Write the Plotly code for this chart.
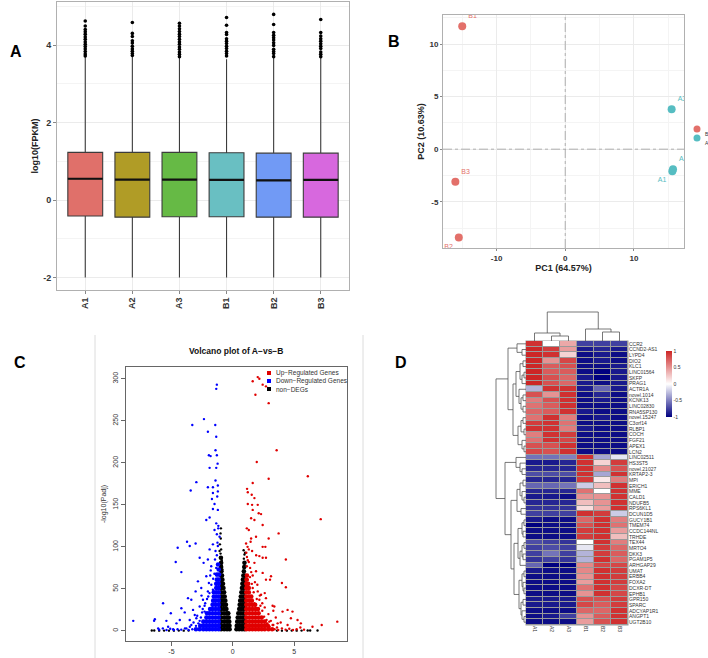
import plotly.graph_objects as go

W, H = 708, 658
FONT = "Liberation Sans, Arial, sans-serif"


def fx(px):
    return px / W


def fy(py):
    return 1 - py / H


# ---------------- Panel A: expression box plot ----------------
samples = ["A1", "A2", "A3", "B1", "B2", "B3"]
box_q1 = [-0.41, -0.44, -0.43, -0.43, -0.44, -0.44]
box_median = [0.55, 0.53, 0.53, 0.52, 0.51, 0.52]
box_q3 = [1.23, 1.23, 1.23, 1.22, 1.21, 1.21]
box_low = [-2.0, -2.0, -2.0, -2.0, -2.0, -2.0]
box_high = [3.70, 3.70, 3.70, 3.63, 3.68, 3.68]
box_colors = ["#E0706A", "#B09C26", "#66BA45", "#69BFC2", "#719AF5", "#D768DE"]
outliers_A1 = [4.62, 4.49, 4.40, 4.34, 4.28, 4.21, 4.15, 4.08, 4.02, 3.96, 3.90, 3.83, 3.77, 3.72]
outliers_A2 = [4.58, 4.30, 4.22, 4.11, 4.05, 3.97, 3.90, 3.84, 3.78, 3.73]
outliers_A3 = [4.56, 4.49, 4.42, 4.35, 4.28, 4.22, 4.15, 4.08, 4.02, 3.95, 3.89, 3.82, 3.76, 3.70]
outliers_B1 = [4.71, 4.51, 4.32, 4.27, 4.16, 4.10, 4.04, 3.97, 3.91, 3.84, 3.78, 3.72]
outliers_B2 = [4.79, 4.53, 4.32, 4.25, 4.19, 4.13, 4.06, 3.99, 3.89, 3.83, 3.78, 3.70]
outliers_B3 = [4.66, 4.32, 4.23, 4.16, 4.10, 4.03, 3.97, 3.91, 3.82, 3.76, 3.70]
outlier_lists = [outliers_A1, outliers_A2, outliers_A3, outliers_B1, outliers_B2, outliers_B3]
box_y_ticks = [-2, 0, 2, 4]

# ---------------- Panel B: PCA ----------------
pca_B_labels = ["B1", "B2", "B3"]
pca_B_pc1 = [-15.0, -15.5, -16.0]
pca_B_pc2 = [11.7, -8.4, -3.1]
pca_B_pos = ["top right", "bottom left", "top right"]
pca_A_labels = ["A1", "A2", "A3"]
pca_A_pc1 = [15.6, 15.7, 15.5]
pca_A_pc2 = [-2.1, -1.9, 3.8]
pca_A_pos = ["bottom left", "top right", "top right"]
pca_x_ticks = [-10, 0, 10]
pca_y_ticks = [-5, 0, 5, 10]
col_B = "#E3706A"
col_A = "#56BDC2"

# ---------------- Panel C: volcano (log2FC, -log10 padj) ----------------
volc_x_ticks = [-5, 0, 5]
volc_y_ticks = [0, 50, 100, 150, 200, 250, 300]
non_core = [
    (-0.95, 2), (-0.7, 2), (-0.47, 2), (-0.26, 2), (0.3, 2), (0.52, 2), (0.75, 2), (0.95, 2),
    (-0.95, 6), (-0.7, 6), (-0.47, 6), (-0.27, 6), (0.32, 6), (0.53, 6), (0.75, 6), (0.95, 6),
    (-0.95, 11), (-0.7, 11), (-0.47, 11), (-0.29, 11), (0.36, 11), (0.56, 11), (0.76, 11), (0.95, 11),
    (-0.95, 16), (-0.7, 16), (-0.5, 16), (-0.33, 16), (0.4, 16), (0.6, 16), (0.8, 16), (0.95, 16),
    (-0.95, 21), (-0.72, 21), (-0.5, 21), (-0.37, 21), (0.45, 21), (0.65, 21), (0.85, 21),
    (-0.95, 26), (-0.72, 26), (-0.52, 26), (0.52, 26), (0.72, 26), (0.92, 26),
    (-0.95, 31), (-0.75, 31), (-0.56, 31), (0.56, 31), (0.75, 31), (0.93, 31),
    (-0.95, 36), (-0.78, 36), (-0.61, 36), (0.6, 36), (0.78, 36), (0.95, 36),
    (-0.95, 41), (-0.8, 41), (-0.66, 41), (0.65, 41), (0.82, 41), (0.95, 41),
    (-0.95, 46), (-0.71, 46), (0.7, 46), (0.88, 46),
    (-0.95, 51), (-0.76, 51), (0.74, 51), (0.9, 51),
    (-0.95, 56), (-0.8, 56), (0.78, 56), (0.93, 56),
    (-0.95, 61), (-0.85, 61), (0.82, 61), (0.95, 61),
    (-0.95, 66), (-0.88, 66), (0.86, 66), (0.96, 66),
    (-0.93, 71), (0.9, 71), (-0.95, 76), (0.93, 76), (-0.95, 81), (0.95, 81), (-0.97, 87),
]
non_sparse = [
    (-1.0, 92), (-0.95, 97), (-1.05, 103), (-0.98, 110), (-1.0, 116), (-0.97, 122), (-1.08, 95),
    (-0.9, 84), (0.9, 86), (0.95, 91), (0.88, 96), (1.0, 93), (-0.85, 73), (-0.9, 78), (0.85, 70),
    (-6.6, 0.5), (-6.4, 0.5), (-6.0, 0.3), (-5.6, 0.4), (-5.2, 0.3), (-4.8, 0.3), (-4.4, 0.4),
    (-4.0, 0.3), (-3.6, 0.4), (3.6, 0.4), (4.0, 0.3), (4.4, 0.3), (4.8, 0.4), (5.2, 0.3),
    (5.6, 0.4), (6.1, 0.5), (6.3, 0.5), (6.9, 0.5),
]
down_core = [
    (-1.15, 2), (-1.4, 2), (-1.65, 2), (-1.9, 2), (-2.15, 2), (-2.4, 2), (-2.7, 2), (-3.0, 2),
    (-1.15, 6), (-1.4, 6), (-1.65, 6), (-1.9, 6), (-2.15, 6), (-2.4, 6), (-2.65, 6),
    (-1.15, 11), (-1.4, 11), (-1.65, 11), (-1.9, 11), (-2.15, 11), (-2.4, 11),
    (-1.15, 16), (-1.4, 16), (-1.65, 16), (-1.9, 16), (-2.15, 16),
    (-1.15, 21), (-1.4, 21), (-1.65, 21), (-1.9, 21), (-2.1, 21),
    (-1.15, 26), (-1.4, 26), (-1.65, 26), (-1.85, 26),
    (-1.15, 31), (-1.4, 31), (-1.65, 31),
    (-1.15, 36), (-1.4, 36), (-1.6, 36),
    (-1.15, 41), (-1.35, 41), (-1.55, 41),
    (-1.15, 46), (-1.35, 46), (-1.55, 46),
    (-1.15, 51), (-1.35, 51), (-1.15, 56), (-1.35, 56),
    (-1.15, 61), (-1.3, 61), (-1.12, 67), (-1.3, 67), (-1.15, 73), (-1.2, 79),
]
down_sparse = [
    (-1.30, 293), (-1.35, 288), (-2.35, 252), (-3.30, 245), (-1.43, 245), (-2.03, 237), (-1.35, 231),
    (-1.95, 209), (-1.81, 208), (-1.41, 215), (-1.30, 209), (-1.24, 199), (-1.35, 194), (-1.89, 194),
    (-2.97, 177), (-3.43, 167), (-2.03, 171), (-1.62, 171), (-1.41, 179), (-1.22, 173), (-1.22, 166),
    (-1.62, 164), (-1.70, 157), (-1.27, 160), (-1.49, 151), (-1.22, 144), (-1.62, 145), (-2.16, 132),
    (-1.89, 135), (-1.35, 128), (-1.19, 122), (-1.49, 120), (-1.08, 112), (-3.73, 106), (-3.51, 101),
    (-4.49, 99), (-3.03, 104), (-1.62, 103), (-1.22, 101), (-1.89, 97), (-1.41, 95), (-2.70, 87),
    (-2.38, 81), (-4.65, 82), (-4.19, 70), (-2.03, 85), (-1.76, 77), (-1.35, 75), (-2.16, 65),
    (-1.84, 66), (-2.84, 59), (-2.57, 51), (-3.03, 47), (-3.65, 39), (-3.38, 37), (-2.43, 37),
    (-2.03, 47), (-1.62, 49), (-5.68, 33), (-5.05, 21), (-4.19, 27), (-3.92, 22), (-3.24, 25),
    (-2.70, 29), (-2.97, 15), (-3.51, 13), (-4.32, 13), (-6.35, 14), (-6.41, 12), (-5.41, 12),
    (-4.59, 9), (-5.27, 5), (-6.08, 3), (-8.11, 12), (-4.86, 2), (-3.78, 3), (-2.70, 5), (-2.16, 15),
    (-2.30, 23), (-3.38, 7), (-3.3, 2), (-3.6, 1), (-3.9, 3), (-4.2, 1.5), (-4.5, 2), (-4.8, 1),
    (-5.1, 2.5), (-5.4, 1), (-5.7, 3), (-6.0, 1.5), (-3.0, 6), (-3.2, 10), (-2.7, 12), (-2.9, 18),
    (-2.5, 22), (-2.3, 30), (-2.1, 38), (-1.9, 45), (-1.75, 55), (-1.6, 62), (-1.5, 68), (-1.45, 85),
    (-1.3, 90), (-1.25, 105), (-1.3, 115), (-1.18, 125), (-2.6, 16), (-2.45, 26), (-2.8, 9),
    (-3.1, 19), (-2.25, 33), (-2.0, 41), (-3.5, 5), (-2.55, 42), (-1.95, 57), (-1.8, 72),
]
up_core = [
    (1.1, 2), (1.35, 2), (1.6, 2), (1.85, 2), (2.1, 2), (2.35, 2), (2.6, 2), (2.9, 2), (3.2, 2),
    (1.1, 6), (1.35, 6), (1.6, 6), (1.85, 6), (2.1, 6), (2.35, 6), (2.6, 6), (2.85, 6),
    (1.1, 11), (1.35, 11), (1.6, 11), (1.85, 11), (2.1, 11), (2.35, 11), (2.6, 11),
    (1.1, 16), (1.35, 16), (1.6, 16), (1.85, 16), (2.1, 16), (2.35, 16),
    (1.1, 21), (1.35, 21), (1.6, 21), (1.85, 21), (2.1, 21),
    (1.1, 26), (1.35, 26), (1.6, 26), (1.85, 26), (2.05, 26),
    (1.1, 31), (1.35, 31), (1.6, 31), (1.82, 31),
    (1.1, 36), (1.35, 36), (1.55, 36),
    (1.1, 41), (1.3, 41), (1.5, 41), (1.1, 46), (1.3, 46), (1.1, 51), (1.3, 51),
    (1.1, 56), (1.25, 56), (1.12, 61), (1.15, 66),
]
up_sparse = [
    (1.62, 297), (2.03, 302), (2.16, 300), (1.84, 281), (2.43, 293), (2.70, 291), (2.92, 271),
    (3.57, 215), (1.95, 201), (2.92, 181), (6.11, 184), (7.16, 133), (3.73, 116), (1.62, 176),
    (1.16, 169), (1.22, 165), (1.54, 162), (1.76, 158), (1.22, 151), (1.57, 150), (2.03, 150),
    (1.62, 144), (2.11, 140), (2.30, 139), (1.49, 134), (1.76, 132), (2.43, 126), (1.14, 122),
    (1.30, 120), (1.89, 112), (2.92, 110), (1.49, 110), (2.43, 100), (2.65, 100), (1.08, 104),
    (1.30, 97), (1.57, 95), (2.16, 89), (2.43, 87), (2.70, 87), (4.32, 85), (1.22, 84), (1.76, 81),
    (1.14, 77), (1.41, 75), (1.89, 71), (2.43, 69), (3.11, 65), (4.00, 57), (4.32, 52), (1.62, 66),
    (1.22, 61), (2.70, 61), (3.03, 61), (1.62, 51), (2.03, 47), (2.30, 43), (1.35, 45), (2.70, 39),
    (3.38, 29), (3.24, 30), (2.16, 37), (1.76, 33), (4.05, 23), (4.46, 25), (4.86, 23), (4.73, 15),
    (5.27, 13), (5.54, 9), (6.49, 5), (7.24, 7), (8.51, 11), (4.46, 7), (3.65, 9), (2.97, 11),
    (3.24, 7), (3.4, 2), (3.7, 1), (4.0, 3), (4.3, 1.5), (4.6, 2.5), (4.9, 1), (5.2, 2), (5.5, 4),
    (5.8, 1.5), (3.0, 5), (3.3, 7), (2.8, 9), (3.1, 12), (3.5, 16), (2.9, 20), (3.3, 24), (2.6, 28),
    (2.4, 33), (2.2, 42), (2.6, 45), (2.0, 55), (1.8, 58), (1.5, 70), (1.3, 82), (1.9, 90),
    (1.15, 88), (1.2, 100), (1.45, 106), (1.1, 93), (2.55, 17), (2.75, 13), (2.4, 24), (3.6, 4),
    (2.25, 30), (1.95, 38), (3.9, 10), (1.7, 46), (1.55, 56), (1.4, 64),
]

# ---------------- Panel D: heatmap ----------------
heat_cols = ["A1", "A2", "A3", "B1", "B2", "B3"]
heat_genes = [
    "CCR2", "CCND2-AS1", "LYPD4", "DIO2", "KLC1", "LINC01564", "SKFP", "PRAG1", "ACTR1A",
    "novel.1014", "KCNK13", "LINC02830", "RNA5SP130", "novel.15247", "C3orf14", "RLBP1", "COCH",
    "FGF21", "APEX1", "LCN2", "LINC02511", "HS3ST5", "novel.21027", "KRTAP2-3", "MPI", "ERICH1",
    "MME", "CALD1", "NDUFB5", "RPS6KL1", "DCUN1D5", "GUCY1B1", "TMEM74", "CCDC144NL", "TRHDE",
    "TEX44", "MRTO4", "DKK3", "PGAM1P5", "ARHGAP29", "UMAT", "ERBB4", "FOXA2", "DCXR-DT", "EPHB1",
    "GPR150", "SPARC", "ADCYAP1R1", "ANGPT1", "UGT2B10",
]
heat_values = [
    [0.95, 0.0, 0.4, -0.75, -0.75, -0.75],
    [1.0, 0.9, 0.45, -0.9, -0.85, -0.9],
    [1.0, 0.95, 0.2, -0.95, -0.9, -0.95],
    [1.0, 0.5, 0.85, -0.95, -0.9, -0.95],
    [1.0, 0.75, 0.8, -0.95, -0.95, -0.9],
    [1.0, 0.75, 0.75, -0.95, -1.0, -0.9],
    [1.0, 0.8, 0.7, -0.9, -1.0, -0.9],
    [1.0, 0.8, 0.7, -0.9, -0.95, -0.9],
    [-0.3, 0.95, 0.95, -0.9, -0.6, -0.9],
    [0.8, 0.5, 0.95, -0.95, -0.85, -0.95],
    [0.6, 0.8, 0.95, -0.95, -0.9, -0.95],
    [0.65, 0.75, 0.95, -0.95, -0.95, -0.95],
    [0.7, 0.75, 0.95, -0.9, -0.95, -0.95],
    [0.65, 0.95, 0.6, -0.95, -0.9, -0.95],
    [0.9, 0.95, 0.65, -0.95, -0.95, -0.95],
    [0.95, 0.95, 0.6, -0.9, -0.95, -0.95],
    [0.6, 0.95, 0.9, -0.95, -0.95, -0.95],
    [0.65, 0.95, 0.85, -0.95, -0.95, -0.95],
    [0.8, 0.8, 0.95, -0.95, -0.95, -0.95],
    [0.85, 0.8, 0.95, -0.95, -0.95, -0.95],
    [-0.55, -0.55, -0.5, 0.95, -0.35, -0.1],
    [-0.9, -0.9, -0.85, 0.95, 0.2, 0.9],
    [-0.85, -0.85, -0.85, 0.95, 0.55, 0.8],
    [-0.7, -0.7, -0.7, 0.95, -0.35, 0.95],
    [-0.85, -0.85, -0.85, 0.9, 0.1, 0.6],
    [-0.6, -0.6, -0.55, -0.2, 0.3, 0.95],
    [-0.85, -0.85, -0.85, 0.65, 0.0, 0.95],
    [-0.9, -0.9, -0.95, 0.5, 0.5, 0.95],
    [-0.85, -0.85, -0.85, 0.3, 0.5, 0.95],
    [-0.8, -0.8, -0.8, 0.15, 0.45, 0.95],
    [-0.75, -0.75, -0.75, 0.95, 0.9, -0.2],
    [-0.9, -0.95, -0.95, 0.7, 0.95, 0.6],
    [-1.0, -0.95, -0.95, 0.8, 0.95, 0.65],
    [-0.95, -0.95, -0.95, 0.9, 0.95, 0.45],
    [-0.95, -0.95, -0.95, 0.9, 0.95, 0.3],
    [-0.7, -0.75, -0.8, 0.0, 0.95, 0.6],
    [-0.75, -0.7, -0.75, -0.1, 0.9, 0.7],
    [-0.75, -0.55, -0.75, -0.3, 0.9, 0.75],
    [-0.8, -0.75, -0.8, -0.3, 0.95, 0.7],
    [-0.6, -1.0, -1.0, 0.55, 0.85, 0.85],
    [-0.9, -0.95, -0.95, 0.55, 0.95, 0.9],
    [-0.95, -0.95, -0.95, 0.5, 0.95, 0.9],
    [-0.95, -0.95, -0.95, 0.45, 0.95, 0.9],
    [-0.95, -0.95, -0.95, 0.65, 0.95, 0.85],
    [-0.95, -0.95, -0.95, 0.5, 0.95, 0.85],
    [-0.9, -0.9, -0.9, 0.8, 0.8, 0.9],
    [-0.9, -0.9, -0.9, 0.85, 0.75, 0.9],
    [-0.95, -0.95, -0.95, 0.7, 0.7, 0.95],
    [-0.95, -0.9, -0.75, 0.5, 0.75, 0.95],
    [-0.95, -0.95, -0.95, 0.45, 0.8, 0.95],
]
colorbar_ticks = [-1, -0.5, 0, 0.5, 1]
# dendrograms: [height, left, right]; leaves are row / column indices
row_tree = [30,
            [18,
             [9, 0, [4, 1, 2]],
             [13,
              [10, [6, [3, 3, 4], [4, [2, 5, 6], 7]], [7, 8, [5, [3, 9, 10], [3, 11, 12]]]],
              [8, [5, [3, 13, 14], [2, 15, 16]], [4, 17, [2, 18, 19]]]]],
            [21,
             [10, 20, [6, 21, [4, 22, 23]]],
             [15,
              [9, [6, [3, 24, 25], [4, 26, [2, 27, 28]]], [5, 29, 30]],
              [12,
               [8, [4, [2, 31, 32], [3, 33, 34]], [6, [4, [2, 35, 36], [3, 37, 38]], 39]],
               [7, [4, [2, 40, 41], [3, 42, [2, 43, 44]]], [5, [3, 45, 46], [4, 47, [2, 48, 49]]]]]]]]
col_tree = [29, [8, 0, [5, 1, 2]], [12, 3, [9, 4, 5]]]


def dendro_lines(node, pos_list, hgt_list):
    if isinstance(node, int):
        return float(node), 0.0
    h, left, right = node
    pl, hl = dendro_lines(left, pos_list, hgt_list)
    pr, hr = dendro_lines(right, pos_list, hgt_list)
    pos_list += [pl, pl, pr, pr, None]
    hgt_list += [hl, h, h, hr, None]
    return (pl + pr) / 2, h


def labels(vals):
    return [("%g" % v) for v in vals]


fig = go.Figure()

# ---- A traces (numeric positions so medians can be drawn thicker)
BOX_HALF = 0.37
pos = list(range(len(samples)))
for i, s in enumerate(samples):
    fig.add_trace(go.Box(
        x=[pos[i]], q1=[box_q1[i]], median=[box_median[i]], q3=[box_q3[i]],
        lowerfence=[box_low[i]], upperfence=[box_high[i]], width=2 * BOX_HALF,
        fillcolor=box_colors[i], line=dict(color="#3c3c3c", width=1.1),
        whiskerwidth=0, boxpoints=False, xaxis="x", yaxis="y", showlegend=False,
    ))
mx, my = [], []
for i in pos:
    mx += [i - BOX_HALF, i + BOX_HALF, None]
    my += [box_median[i], box_median[i], None]
fig.add_trace(go.Scatter(x=mx, y=my, mode="lines", line=dict(color="#111", width=2.2),
                         xaxis="x", yaxis="y", showlegend=False))
ox, oy = [], []
for i, lst in zip(pos, outlier_lists):
    ox += [i] * len(lst)
    oy += lst
fig.add_trace(go.Scatter(x=ox, y=oy, mode="markers", marker=dict(color="black", size=3.6),
                         xaxis="x", yaxis="y", showlegend=False))

# ---- B traces
fig.add_trace(go.Scatter(x=pca_B_pc1, y=pca_B_pc2, mode="markers+text", text=pca_B_labels,
                         textposition=pca_B_pos, textfont=dict(size=7, color=col_B),
                         marker=dict(color=col_B, size=8), xaxis="x2", yaxis="y2", showlegend=False))
fig.add_trace(go.Scatter(x=pca_A_pc1, y=pca_A_pc2, mode="markers+text", text=pca_A_labels,
                         textposition=pca_A_pos, textfont=dict(size=7, color=col_A),
                         marker=dict(color=col_A, size=8), xaxis="x2", yaxis="y2", showlegend=False))

# ---- C traces
for pts, col, size in [(non_core, "black", 4.6), (down_core, "#0000FF", 4.6), (up_core, "#E00000", 4.6),
                       (non_sparse, "black", 2.4), (down_sparse, "#0000FF", 2.4), (up_sparse, "#E00000", 2.4)]:
    fig.add_trace(go.Scatter(x=[p[0] for p in pts], y=[p[1] for p in pts], mode="markers",
                             marker=dict(color=col, size=size, line=dict(width=0)),
                             xaxis="x3", yaxis="y3", showlegend=False))

# ---- D traces
fig.add_trace(go.Heatmap(
    z=heat_values, x=list(range(len(heat_cols))), y=list(range(len(heat_genes))),
    colorscale=[[0, "#000080"], [0.5, "#FFFFFF"], [1, "#CD2626"]], zmin=-1, zmax=1,
    xgap=1, ygap=1, xaxis="x4", yaxis="y4",
    colorbar=dict(x=fx(656), xanchor="left", y=fy(341), yanchor="top", len=86 / H,
                  thickness=6, outlinewidth=0, ticks="", tickvals=colorbar_ticks,
                  ticktext=labels(colorbar_ticks), tickfont=dict(size=5, color="#333")),
))
rp, rh = [], []
dendro_lines(row_tree, rp, rh)
fig.add_trace(go.Scatter(x=rh, y=rp, mode="lines", line=dict(color="#555", width=0.8),
                         xaxis="x5", yaxis="y4", showlegend=False))
cp, ch = [], []
dendro_lines(col_tree, cp, ch)
fig.add_trace(go.Scatter(x=cp, y=ch, mode="lines", line=dict(color="#555", width=0.8),
                         xaxis="x4", yaxis="y6", showlegend=False))

tick_bold = dict(family=FONT, size=9, color="#333", weight="bold")
grid = "#ebebeb"

shapes = [
    dict(type="line", xref="x2", yref="y2 domain", x0=0, x1=0, y0=0, y1=1,
         line=dict(color="#a0a0a0", width=0.8, dash="dashdot")),
    dict(type="line", xref="x2 domain", yref="y2", x0=0, x1=1, y0=0, y1=0,
         line=dict(color="#a0a0a0", width=0.8, dash="dashdot")),
    dict(type="circle", xref="paper", yref="paper", x0=fx(693.5), x1=fx(700.5), y0=fy(132.5), y1=fy(125.5),
         fillcolor=col_B, line=dict(width=0)),
    dict(type="circle", xref="paper", yref="paper", x0=fx(693.5), x1=fx(700.5), y0=fy(141.5), y1=fy(134.5),
         fillcolor=col_A, line=dict(width=0)),
    dict(type="line", xref="paper", yref="paper", x0=fx(95), x1=fx(95), y0=0, y1=fy(335),
         line=dict(color="#dcdcdc", width=1)),
    dict(type="line", xref="paper", yref="paper", x0=fx(363), x1=fx(363), y0=0, y1=fy(335),
         line=dict(color="#dcdcdc", width=1)),
    dict(type="rect", xref="paper", yref="paper", x0=fx(267), x1=fx(271), y0=fy(375), y1=fy(371),
         fillcolor="#E00000", line=dict(width=0)),
    dict(type="rect", xref="paper", yref="paper", x0=fx(267), x1=fx(271), y0=fy(383), y1=fy(379),
         fillcolor="#0000FF", line=dict(width=0)),
    dict(type="rect", xref="paper", yref="paper", x0=fx(267), x1=fx(271), y0=fy(391), y1=fy(387),
         fillcolor="black", line=dict(width=0)),
    dict(type="rect", xref="paper", yref="paper", x0=fx(525.5), x1=fx(628.5), y0=fy(625.5), y1=fy(340.5),
         fillcolor="#9a9a9a", line=dict(width=0), layer="below"),
]

annotations = [
    dict(text="<b>A</b>", x=fx(8), y=fy(52), xref="paper", yref="paper", showarrow=False,
         xanchor="left", yanchor="middle", font=dict(size=16, color="black")),
    dict(text="<b>B</b>", x=fx(386), y=fy(41), xref="paper", yref="paper", showarrow=False,
         xanchor="left", yanchor="middle", font=dict(size=16, color="black")),
    dict(text="<b>C</b>", x=fx(12), y=fy(362), xref="paper", yref="paper", showarrow=False,
         xanchor="left", yanchor="middle", font=dict(size=16, color="black")),
    dict(text="<b>D</b>", x=fx(393), y=fy(362), xref="paper", yref="paper", showarrow=False,
         xanchor="left", yanchor="middle", font=dict(size=16, color="black")),
    dict(text="B", x=fx(703), y=fy(129), xref="paper", yref="paper", showarrow=False,
         xanchor="left", font=dict(size=5, color="#333")),
    dict(text="A", x=fx(703), y=fy(138), xref="paper", yref="paper", showarrow=False,
         xanchor="left", font=dict(size=5, color="#333")),
    dict(text="<b>Volcano plot of A\u2212vs\u2212B</b>", x=fx(236), y=fy(351), xref="paper", yref="paper",
         showarrow=False, font=dict(size=8.5, color="#111")),
    dict(text="Up\u2212Regulated Genes", x=fx(274), y=fy(373), xref="paper", yref="paper", showarrow=False,
         xanchor="left", font=dict(size=6.5, color="#333")),
    dict(text="Down\u2212Regulated Genes", x=fx(274), y=fy(381), xref="paper", yref="paper", showarrow=False,
         xanchor="left", font=dict(size=6.5, color="#333")),
    dict(text="non\u2212DEGs", x=fx(274), y=fy(389), xref="paper", yref="paper", showarrow=False,
         xanchor="left", font=dict(size=6.5, color="#333")),
]

fig.update_layout(
    width=W, height=H, margin=dict(l=0, r=0, t=0, b=0), autosize=False,
    paper_bgcolor="white", plot_bgcolor="white", showlegend=False,
    font=dict(family=FONT, color="#333"),
    boxmode="overlay",
    shapes=shapes, annotations=annotations,
    # Panel A
    xaxis=dict(domain=[fx(57), fx(349)], anchor="y", range=[-0.6, 5.6],
               tickvals=pos, ticktext=samples,
               tickangle=-90, tickfont=tick_bold, showgrid=True, gridcolor=grid,
               showline=True, mirror=True, linecolor="#b0b0b0", ticks="outside", ticklen=3,
               tickcolor="#888", zeroline=False),
    yaxis=dict(domain=[fy(290), fy(2)], anchor="x", range=[-2.32, 5.11], tickvals=box_y_ticks,
               ticktext=labels(box_y_ticks),
               tickfont=tick_bold, showgrid=True, gridcolor=grid,
               minor=dict(tickvals=[-1, 1, 3, 5], showgrid=True, gridcolor="#f4f4f4", ticklen=0),
               showline=True, mirror=True, linecolor="#b0b0b0", ticks="outside", ticklen=3,
               tickcolor="#888", zeroline=False,
               title=dict(text="log10(FPKM)", standoff=3,
                          font=dict(size=9, color="#222", weight="bold"))),
    # Panel B
    xaxis2=dict(domain=[fx(443), fx(684)], anchor="y2", range=[-17.8, 17.3], tickvals=pca_x_ticks,
                ticktext=labels(pca_x_ticks),
                tickfont=dict(size=8, color="#333", weight="bold"), showgrid=True, gridcolor=grid,
                minor=dict(tickvals=[-15, -5, 5, 15], showgrid=True, gridcolor="#f4f4f4", ticklen=0),
                showline=True, mirror=True, linecolor="#b0b0b0", ticks="outside", ticklen=2,
                tickcolor="#888", zeroline=False,
                title=dict(text="PC1 (64.57%)", standoff=2,
                           font=dict(size=9, color="#222", weight="bold"))),
    yaxis2=dict(domain=[fy(248), fy(15)], anchor="x2", range=[-9.4, 12.76], tickvals=pca_y_ticks,
                ticktext=labels(pca_y_ticks),
                tickfont=dict(size=8, color="#333", weight="bold"), showgrid=True, gridcolor=grid,
                minor=dict(tickvals=[-7.5, -2.5, 2.5, 7.5, 12.5], showgrid=True, gridcolor="#f4f4f4",
                           ticklen=0),
                showline=True, mirror=True, linecolor="#b0b0b0", ticks="outside", ticklen=2,
                tickcolor="#888", zeroline=False,
                title=dict(text="PC2 (10.63%)", standoff=3,
                           font=dict(size=9, color="#222", weight="bold"))),
    # Panel C
    xaxis3=dict(domain=[fx(126), fx(347)], anchor="y3", range=[-8.7, 9.3], tickvals=volc_x_ticks,
                ticktext=labels(volc_x_ticks),
                tickfont=dict(size=7, color="#333"), showgrid=False, zeroline=False,
                showline=True, mirror=True, linecolor="#666", ticks="outside", ticklen=4,
                tickcolor="#666"),
    yaxis3=dict(domain=[fy(641), fy(367)], anchor="x3", range=[-12, 314],
                tickvals=volc_y_ticks, ticktext=labels(volc_y_ticks), tickangle=-90,
                tickfont=dict(size=7, color="#333"), showgrid=False, zeroline=False,
                showline=True, mirror=True, linecolor="#666", ticks="outside", ticklen=4,
                tickcolor="#666",
                title=dict(text="-log10(Padj)", standoff=4, font=dict(size=7, color="#333"))),
    # Panel D heatmap
    xaxis4=dict(domain=[fx(526), fx(628)], anchor="y4", range=[-0.5, 5.5],
                tickvals=list(range(len(heat_cols))), ticktext=heat_cols, tickangle=90,
                tickfont=dict(size=5, color="#333"), showgrid=False, zeroline=False, ticks="",
                showline=False),
    yaxis4=dict(domain=[fy(625), fy(341)], anchor="x4", range=[len(heat_genes) - 0.5, -0.5],
                side="right", tickvals=list(range(len(heat_genes))), ticktext=heat_genes,
                tickfont=dict(size=5, color="#333"), showgrid=False, zeroline=False, ticks="",
                showline=False),
    xaxis5=dict(domain=[fx(494), fx(526)], anchor="y4", range=[32, 0], visible=False),
    yaxis6=dict(domain=[fy(341), fy(309)], anchor="x4", range=[0, 32], visible=False),
)

fig.write_html("out.html")
